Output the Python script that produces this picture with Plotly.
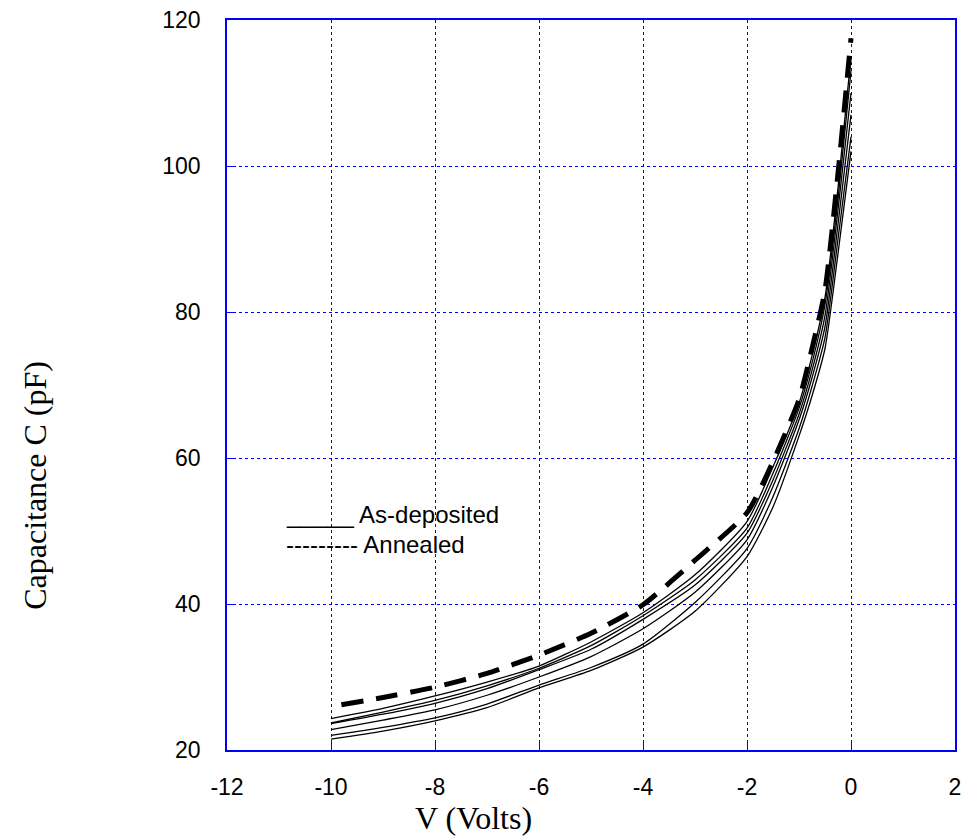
import plotly.graph_objects as go

V = [-10, -9, -8, -7, -6, -5, -4, -3, -2, -1.5, -1, -0.75, -0.5, -0.25, 0]

as_deposited = [
    [24.3, 25.7, 27.4, 29.3, 31.5, 34.8, 38.8, 44.0, 51.3, 58.8, 67.5, 74.0, 82.0, 97.0, 115.0],
    [23.7, 25.2, 26.8, 28.8, 31.2, 34.3, 38.4, 43.3, 50.4, 57.9, 66.8, 73.0, 81.0, 95.5, 113.0],
    [23.6, 24.9, 26.4, 28.4, 31.0, 33.8, 37.9, 42.6, 49.7, 57.0, 66.0, 72.0, 79.5, 94.0, 110.0],
    [22.8, 24.1, 25.5, 27.5, 30.0, 32.8, 36.6, 41.6, 48.8, 56.1, 65.2, 71.0, 78.0, 92.0, 107.0],
    [22.0, 23.1, 24.4, 26.3, 28.9, 31.3, 34.5, 40.2, 47.6, 54.7, 64.0, 69.8, 76.5, 90.0, 104.0],
    [21.5, 22.6, 24.0, 25.8, 28.5, 30.9, 34.1, 39.0, 46.5, 53.3, 63.0, 68.5, 75.0, 88.0, 102.0],
]

V_ann = [-9.8, -9, -8, -7, -6, -5, -4, -3, -2, -1.5, -1, -0.75, -0.5, -0.25, 0]
annealed = [26.2, 27.2, 28.6, 30.5, 33.0, 36.0, 39.9, 46.0, 52.5, 59.5, 68.0, 75.0, 83.0, 99.0, 117.5]

x_ticks = [-12, -10, -8, -6, -4, -2, 0, 2]
x_tick_labels = ["-12", "-10", "-8", "-6", "-4", "-2", "0", "2"]
y_ticks = [20, 40, 60, 80, 100, 120]
y_tick_labels = ["20", "40", "60", "80", "100", "120"]

fig = go.Figure()
for ys in as_deposited:
    fig.add_trace(go.Scatter(x=V, y=ys, mode="lines",
                             line=dict(color="black", width=1.3, shape="spline", smoothing=0.6),
                             showlegend=False, hoverinfo="skip"))
fig.add_trace(go.Scatter(x=V_ann, y=annealed, mode="lines",
                         line=dict(color="black", width=5, dash="22px,13px", shape="spline", smoothing=0.6),
                         showlegend=False, hoverinfo="skip"))

axis_common = dict(
    showgrid=True, gridcolor="blue", griddash="dot", gridwidth=1,
    showline=True, linecolor="blue", linewidth=1.5, mirror=True,
    ticks="inside", tickcolor="blue", ticklen=8, tickwidth=1,
    zeroline=False, automargin=False, ticklabeloverflow="allow",
    tickfont=dict(family="Liberation Sans, Arial", size=23, color="black"),
)

fig.update_xaxes(range=[-12, 2], tickvals=x_ticks, ticktext=x_tick_labels,
                 ticklabelstandoff=16, **axis_common)
fig.update_yaxes(range=[20, 120], tickvals=y_ticks, ticktext=y_tick_labels,
                 ticklabelstandoff=20, **axis_common)

legend_font = dict(family="Liberation Sans, Arial", size=24, color="black")
fig.update_layout(
    width=966, height=840,
    margin=dict(l=227, r=11, t=20, b=90, autoexpand=False),
    plot_bgcolor="white", paper_bgcolor="white",
    annotations=[
        dict(text="V (Volts)", xref="paper", yref="paper", x=0.339, y=-0.093,
             xanchor="center", yanchor="middle", showarrow=False,
             font=dict(family="Liberation Serif, Times New Roman", size=32, color="black")),
        dict(text="Capacitance C (pF)", xref="paper", yref="paper", x=-0.264, y=0.363,
             xanchor="center", yanchor="middle", textangle=-90, showarrow=False,
             font=dict(family="Liberation Serif, Times New Roman", size=32, color="black")),
        dict(text="_____ As-deposited", xref="paper", yref="paper", x=(284 - 227) / 728, y=(750 - 514) / 730,
             xanchor="left", yanchor="middle", showarrow=False, font=legend_font),
        dict(text="--------- Annealed", xref="paper", yref="paper", x=(284 - 227) / 728, y=(750 - 544) / 730,
             xanchor="left", yanchor="middle", showarrow=False, font=legend_font),
    ],
)

fig.write_html("out.html", config={"displayModeBar": False},
               post_script="document.body.style.margin='0';document.body.style.overflow='hidden';")
